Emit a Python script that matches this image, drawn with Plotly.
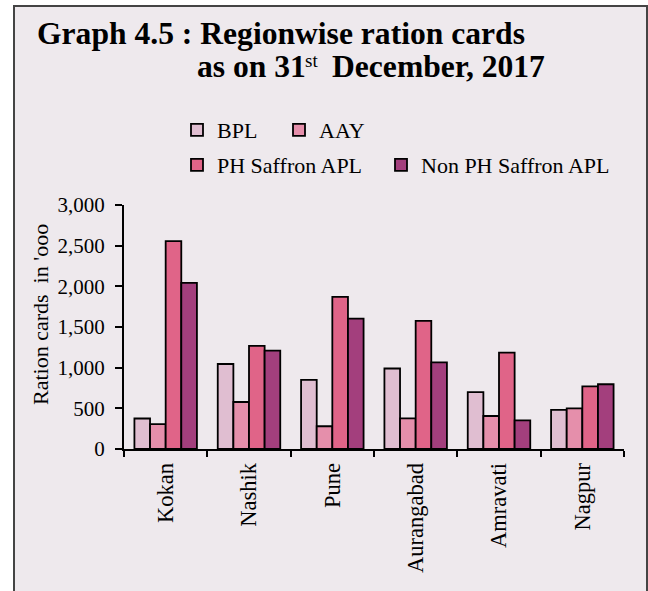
import plotly.graph_objects as go

regions = ["Kokan", "Nashik", "Pune", "Aurangabad", "Amravati", "Nagpur"]
bpl = [375, 1045, 850, 990, 700, 480]
aay = [305, 578, 280, 377, 406, 500]
ph_saffron = [2557, 1267, 1870, 1575, 1185, 771]
non_ph_saffron = [2042, 1210, 1603, 1066, 353, 796]

series_names = ["BPL", "AAY", "PH Saffron APL", "Non PH Saffron APL"]
series_values = [bpl, aay, ph_saffron, non_ph_saffron]
series_colors = ["#E0BED1", "#E58FAB", "#E06488", "#A33F7D"]
series_legend = ["legend", "legend2", "legend3", "legend4"]

FONT = "Liberation Serif, Times New Roman, serif"
BG = "#EEE9ED"

fig = go.Figure()
for name, vals, col, lg in zip(series_names, series_values, series_colors, series_legend):
    fig.add_trace(go.Bar(
        x=regions, y=vals, name=name, legend=lg, showlegend=True,
        marker=dict(color=col, line=dict(color="black", width=1.8)),
    ))

W, H = 648, 591
L, R, T, B = 124, 24, 205, 142
pw = W - L - R
ph = H - T - B

def px(x):
    return (x - L) / pw

def py(y):
    return (H - B - y) / ph

fig.add_shape(type="rect", xref="paper", yref="paper",
              x0=px(14), x1=px(647), y0=py(640), y1=py(6),
              line=dict(color="#444444", width=2), fillcolor=BG, layer="below")

TITLE_FONT = dict(family=FONT, size=31.6, color="black")
fig.add_annotation(text="<b>Graph 4.5 : Regionwise ration cards</b>",
                   xref="paper", yref="paper", x=px(35), y=py(33),
                   xanchor="left", yanchor="middle", showarrow=False, font=TITLE_FONT)
fig.add_annotation(text="<b>as on 31</b>",
                   xref="paper", yref="paper", x=px(195), y=py(67),
                   xanchor="left", yanchor="middle", showarrow=False, font=TITLE_FONT)
fig.add_annotation(text="st",
                   xref="paper", yref="paper", x=px(303), y=py(60),
                   xanchor="left", yanchor="middle", showarrow=False,
                   font=dict(family=FONT, size=19, color="black"))
fig.add_annotation(text="<b>December, 2017</b>",
                   xref="paper", yref="paper", x=px(330), y=py(67),
                   xanchor="left", yanchor="middle", showarrow=False, font=TITLE_FONT)
fig.add_annotation(text="Ration cards\u00a0 in 'ooo",
                   xref="paper", yref="paper", x=px(40), y=py(315),
                   xanchor="center", yanchor="middle", textangle=-90, showarrow=False,
                   font=dict(family=FONT, size=22, color="black"))

def leg(xpix, ypix):
    return dict(orientation="h", x=px(xpix), xanchor="left", y=py(ypix), yanchor="middle",
                bgcolor="rgba(0,0,0,0)", font=dict(family=FONT, size=22))

fig.update_layout(
    width=W, height=H,
    margin=dict(l=L, r=R, t=T, b=B, pad=0),
    paper_bgcolor="white", plot_bgcolor="rgba(0,0,0,0)",
    font=dict(family=FONT, size=20, color="black"),
    barmode="group", bargap=0.25, bargroupgap=0,
    showlegend=True,
    legend=leg(177, 130),
    legend2=leg(279, 130),
    legend3=leg(177, 165),
    legend4=leg(381, 165),
    xaxis=dict(showline=True, linecolor="black", linewidth=2, ticks="outside",
               tickson="boundaries", ticklen=6, tickwidth=2, tickcolor="black",
               tickangle=-90, tickfont=dict(family=FONT, size=22.5), showgrid=False,
               zeroline=False, ticklabelstandoff=3),
    yaxis=dict(range=[0, 3000], dtick=500, tickformat=",", showline=True,
               linecolor="black", linewidth=2, ticks="outside", ticklen=7, tickwidth=2,
               tickcolor="black", tickfont=dict(family=FONT, size=21), showgrid=False,
               zeroline=False, ticklabelstandoff=6),
)

fig.write_html("out.html", config={"displayModeBar": False},
               post_script="document.body.style.margin='0px';")
